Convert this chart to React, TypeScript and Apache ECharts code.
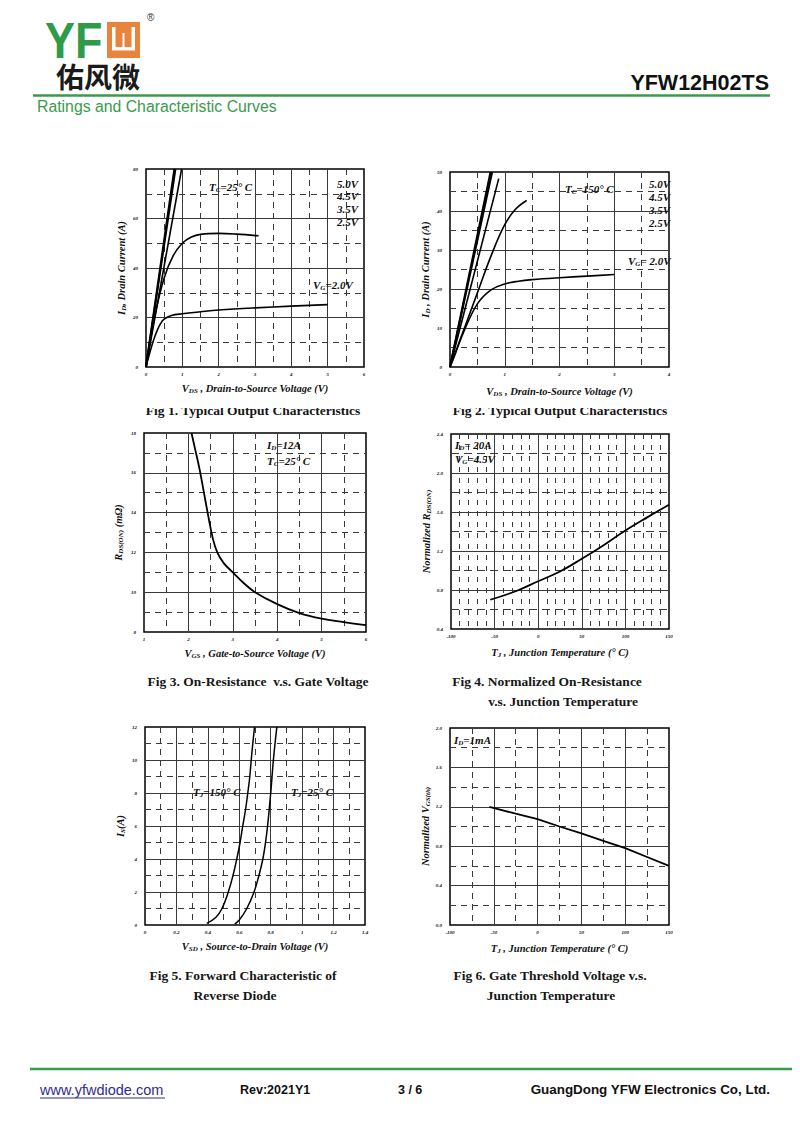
import React, { useEffect, useRef } from 'react';
import * as echarts from 'echarts';

const SERIF = '"Liberation Serif", "Times New Roman", serif';
const SANS = '"Liberation Sans", Arial, sans-serif';
const CJK = '"Noto Sans CJK SC", sans-serif';
const GREEN = '#3a9a4c';

// ---------- Fig 1: Typical Output Characteristics (Tc = 25 C) ----------
const f1Vg50X = [0, 0.78];
const f1Vg50Y = [0, 80];
const f1Vg45X = [0, 0.81];
const f1Vg45Y = [0, 80];
const f1Vg35X = [0, 0.98];
const f1Vg35Y = [0, 80];
const f1Vg25X = [0, 0.25, 0.5, 0.75, 1.0, 1.25, 1.5, 2.0, 2.5, 3.1];
const f1Vg25Y = [0, 21, 36, 45, 50, 52.5, 53.6, 54, 53.7, 53];
const f1Vg20X = [0, 0.1, 0.2, 0.3, 0.4, 0.5, 0.7, 1.0, 1.5, 2, 3, 4, 5];
const f1Vg20Y = [0, 5.5, 10.5, 14.5, 17.5, 19.3, 20.8, 21.5, 22.3, 23, 23.9, 24.6, 25.2];

// ---------- Fig 2: Typical Output Characteristics (Tc = 150 C) ----------
const f2Vg50X = [0, 0.74];
const f2Vg50Y = [0, 50];
const f2Vg45X = [0, 0.77];
const f2Vg45Y = [0, 50];
const f2Vg35X = [0, 0.89];
const f2Vg35Y = [0, 48.3];
const f2Vg25X = [0, 0.25, 0.5, 0.75, 1.0, 1.2, 1.4];
const f2Vg25Y = [0, 9.5, 19, 28.5, 36.5, 40.5, 42.7];
const f2Vg20X = [0, 0.1, 0.25, 0.5, 0.75, 1.0, 1.25, 1.5, 2, 2.5, 3];
const f2Vg20Y = [0, 3.5, 9, 16.2, 19.8, 21.3, 22, 22.4, 22.9, 23.3, 23.7];

// ---------- Fig 3: On-Resistance vs Gate Voltage ----------
const f3Vgs = [2.07, 2.15, 2.25, 2.35, 2.45, 2.55, 2.65, 2.8, 3.0, 3.25, 3.5, 4.0, 4.5, 5.0, 5.5, 6.0];
const f3Rds = [18, 17.2, 16.2, 15.0, 13.8, 12.7, 12.0, 11.45, 11.0, 10.45, 10.0, 9.4, 8.95, 8.67, 8.5, 8.35];

// ---------- Fig 4: Normalized On-Resistance vs Tj ----------
const f4Tj = [-55, -25, 0, 25, 50, 75, 100, 125, 150];
const f4Rn = [0.7, 0.79, 0.89, 0.99, 1.12, 1.26, 1.41, 1.545, 1.675];

// ---------- Fig 5: Forward Characteristic of Reverse Diode ----------
const f5T150V = [0.393, 0.45, 0.49, 0.53, 0.56, 0.584, 0.605, 0.622, 0.64, 0.654, 0.667, 0.676, 0.686, 0.697];
const f5T150I = [0.1, 0.45, 1, 2, 3, 4, 5, 6, 7, 8, 9, 10, 11, 12];
const f5T25V = [0.571, 0.6, 0.648, 0.694, 0.725, 0.75, 0.767, 0.78, 0.8, 0.817, 0.839];
const f5T25I = [0.06, 0.3, 1, 2, 3, 4, 5, 6, 8, 10, 12];

// ---------- Fig 6: Gate Threshold Voltage vs Tj ----------
const f6Tj = [-55, -25, 0, 25, 50, 75, 100, 125, 150];
const f6Vth = [1.2, 1.13, 1.075, 1.0, 0.93, 0.855, 0.78, 0.69, 0.6];

const zip = (xs: number[], ys: number[]) => xs.map((x, i) => [x, ys[i]]);

const LBL = { fontSize: 5, fontFamily: SERIF, fontStyle: 'italic', fontWeight: 'bold', color: '#111' };
const solid = { color: '#3a3a3a', width: 1 };
const dashed = (d: number[]) => ({ color: '#3a3a3a', width: 1, type: d });

function nameStyle(size: number) {
  const base = { fontFamily: SERIF, fontStyle: 'italic', fontWeight: 'bold', color: '#111' };
  return {
    ...base,
    fontSize: size,
    rich: {
      i: { ...base, fontSize: size },
      s: { ...base, fontSize: Math.round(size * 0.65), padding: [5, 0, 0, 0] },
    },
  };
}

function xAx(gi: number, min: number, max: number, interval: number, minorN: number, name: string, gap: number, d: number[]) {
  return {
    type: 'value', gridIndex: gi, min, max, interval,
    axisLine: { show: false }, axisTick: { show: false },
    axisLabel: { ...LBL, margin: 5 },
    splitLine: { show: true, showMinLine: false, showMaxLine: false, lineStyle: solid },
    minorTick: { show: false, splitNumber: minorN },
    minorSplitLine: { show: true, lineStyle: dashed(d) },
    name, nameLocation: 'middle', nameGap: gap, nameTextStyle: nameStyle(10.5),
  };
}

function yAx(gi: number, min: number, max: number, interval: number, minorN: number, name: string, gap: number, d: number[], fmt?: (v: number) => string) {
  return {
    type: 'value', gridIndex: gi, min, max, interval,
    axisLine: { show: false }, axisTick: { show: false },
    axisLabel: { ...LBL, margin: 8, formatter: fmt },
    splitLine: { show: true, showMinLine: false, showMaxLine: false, lineStyle: solid },
    minorTick: { show: false, splitNumber: minorN },
    minorSplitLine: { show: true, lineStyle: dashed(d) },
    name, nameLocation: 'middle', nameRotate: 90, nameGap: gap, nameTextStyle: nameStyle(10.5),
  };
}

function line(gi: number, data: number[][], width = 1.6, smooth: any = 0.4) {
  return {
    type: 'line', xAxisIndex: gi, yAxisIndex: gi, data, showSymbol: false, symbol: 'none',
    smooth, lineStyle: { color: '#000', width }, silent: true,
  };
}

const RICH_BASE = { fontFamily: SERIF, fontStyle: 'italic', fontWeight: 'bold', fill: '#111' };
function ann(x: number, y: number, text: string, size = 11) {
  return {
    type: 'text', x, y, z: 10,
    style: {
      text, ...RICH_BASE, fontSize: size, textAlign: 'left', textVerticalAlign: 'middle',
      rich: {
        i: { ...RICH_BASE, fontSize: size },
        s: { ...RICH_BASE, fontSize: Math.round(size * 0.65), padding: [5, 0, 0, 0] },
      },
    },
  };
}

function txt(x: number, y: number, text: string, o: any = {}) {
  return {
    type: 'text', x, y, z: o.z ?? 10, scaleX: o.scaleX ?? 1,
    style: {
      text,
      fontFamily: o.family ?? SANS,
      fontSize: o.size ?? 12,
      fontWeight: o.weight ?? 'normal',
      fontStyle: o.style ?? 'normal',
      fill: o.fill ?? '#111',
      textAlign: o.align ?? 'left',
      textVerticalAlign: 'middle',
    },
  };
}

function cap(x: number, y: number, text: string) {
  return txt(x, y, text, { family: SERIF, size: 13.5, weight: 'bold', align: 'center', fill: '#161616' });
}

export default function App() {
  const ref = useRef<HTMLDivElement>(null);
  useEffect(() => {
    if (!ref.current) return;
    const chart = echarts.init(ref.current, undefined, { renderer: 'svg' });

    const gridBase = { show: true, borderColor: '#000', borderWidth: 1.5, backgroundColor: 'transparent', containLabel: false };
    const grids = [
      { ...gridBase, left: 146, top: 169, width: 218, height: 198 },
      { ...gridBase, left: 450, top: 172, width: 219, height: 195 },
      { ...gridBase, left: 144, top: 433, width: 222, height: 199 },
      { ...gridBase, left: 451, top: 434, width: 218, height: 195 },
      { ...gridBase, left: 145, top: 727, width: 220, height: 198 },
      { ...gridBase, left: 450, top: 728, width: 219, height: 197 },
    ];

    const d1 = [6, 5];
    const xAxis = [
      xAx(0, 0, 6, 1, 2, '{i|V}{s|DS}{i| , Drain-to-Source Voltage (V)}', 15, d1),
      xAx(1, 0, 4, 1, 2, '{i|V}{s|DS}{i| , Drain-to-Source Voltage (V)}', 18, d1),
      xAx(2, 1, 6, 1, 2, '{i|V}{s|GS}{i| , Gate-to-Source Voltage (V)}', 15, d1),
      xAx(3, -100, 150, 50, 5, '{i|T}{s|J}{i| , Junction Temperature (° C)}', 17, [5, 6]),
      xAx(4, 0, 1.4, 0.2, 2, '{i|V}{s|SD}{i| , Source-to-Drain Voltage (V)}', 15, d1),
      xAx(5, -100, 150, 50, 2, '{i|T}{s|J}{i| , Junction Temperature (° C)}', 17, d1),
    ];
    const f1 = (v: number) => v.toFixed(1);
    const yAxis = [
      yAx(0, 0, 80, 20, 2, '{i|I}{s|D}{i|, Drain Current (A)}', 19, d1),
      yAx(1, 0, 50, 10, 2, '{i|I}{s|D}{i| , Drain Current (A)}', 19, d1),
      yAx(2, 8, 18, 2, 2, '{i|R}{s|DS(ON)}{i| (mΩ)}', 20, d1),
      yAx(3, 0.4, 2.4, 0.4, 2, '{i|Normalized R}{s|DS(ON)}', 19, [8, 5], f1),
      yAx(4, 0, 12, 2, 2, '{i|I}{s|S}{i|(A)}', 19, d1),
      yAx(5, 0, 2.0, 0.4, 2, '{i|Normalized V}{s|GS(th)}', 19, d1, f1),
    ];

    const series = [
      line(0, zip(f1Vg50X, f1Vg50Y), 2),
      line(0, zip(f1Vg45X, f1Vg45Y), 2),
      line(0, zip(f1Vg35X, f1Vg35Y), 1.6),
      line(0, zip(f1Vg25X, f1Vg25Y)),
      line(0, zip(f1Vg20X, f1Vg20Y)),
      line(1, zip(f2Vg50X, f2Vg50Y), 2),
      line(1, zip(f2Vg45X, f2Vg45Y), 2),
      line(1, zip(f2Vg35X, f2Vg35Y), 1.6),
      line(1, zip(f2Vg25X, f2Vg25Y)),
      line(1, zip(f2Vg20X, f2Vg20Y)),
      line(2, zip(f3Vgs, f3Rds), 1.8),
      line(3, zip(f4Tj, f4Rn), 1.8),
      line(4, zip(f5T150V, f5T150I), 1.5),
      line(4, zip(f5T25V, f5T25I), 1.5),
      line(5, zip(f6Tj, f6Vth), 1.8, false),
    ];

    const graphic: any[] = [
      // header logo
      txt(45, 41, 'YF', { size: 50, weight: 'bold', fill: '#2f9a48', scaleX: 0.9 }),
      { type: 'rect', shape: { x: 107, y: 22, width: 33, height: 36 }, style: { fill: '#e8843c' }, z: 10 },
      { type: 'rect', shape: { x: 112, y: 27, width: 3.5, height: 23 }, style: { fill: '#fff' }, z: 11 },
      { type: 'rect', shape: { x: 131.5, y: 27, width: 3.5, height: 23 }, style: { fill: '#fff' }, z: 11 },
      { type: 'rect', shape: { x: 122.5, y: 33, width: 2, height: 15 }, style: { fill: '#fff' }, z: 11 },
      { type: 'rect', shape: { x: 112, y: 47, width: 23, height: 3.5 }, style: { fill: '#fff' }, z: 11 },
      txt(147, 17, '®', { size: 10, fill: '#333' }),
      txt(56, 76, '佑风微', { family: CJK, size: 28, weight: 'bold', fill: '#1a1a1a' }),
      txt(769, 83, 'YFW12H02TS', { size: 21.5, weight: 'bold', align: 'right', fill: '#111' }),
      { type: 'line', shape: { x1: 33, y1: 95.5, x2: 770, y2: 95.5 }, style: { stroke: GREEN, lineWidth: 2.5 }, z: 10 },
      txt(37, 106, 'Ratings and Characteristic Curves', { size: 15.8, fill: GREEN }),

      // captions
      cap(253, 410, 'Fig 1. Typical Output Characteristics'),
      cap(560, 410, 'Fig 2. Typical Output Characteristics'),
      { type: 'rect', shape: { x: 130, y: 398, width: 560, height: 10 }, style: { fill: '#fff' }, z: 20 },
      cap(258, 681, 'Fig 3. On-Resistance  v.s. Gate Voltage'),
      cap(547, 681, 'Fig 4. Normalized On-Resistance'),
      cap(563, 701, 'v.s. Junction Temperature'),
      cap(243, 975, 'Fig 5. Forward Characteristic of'),
      cap(235, 995, 'Reverse Diode'),
      cap(550, 975, 'Fig 6. Gate Threshold Voltage v.s.'),
      cap(551, 995, 'Junction Temperature'),

      // annotations
      ann(209, 187, '{i|T}{s|C}{i|=25° C}'),
      ann(337, 184, '{i|5.0V}'),
      ann(337, 196, '{i|4.5V}'),
      ann(337, 209, '{i|3.5V}'),
      ann(337, 222, '{i|2.5V}'),
      ann(313, 285, '{i|V}{s|G}{i|=2.0V}'),
      ann(565, 189, '{i|T}{s|C}{i|=150° C}'),
      ann(649, 184, '{i|5.0V}'),
      ann(649, 197, '{i|4.5V}'),
      ann(649, 210, '{i|3.5V}'),
      ann(649, 223, '{i|2.5V}'),
      ann(628, 261, '{i|V}{s|G}{i|= 2.0V}'),
      ann(267, 445, '{i|I}{s|D}{i|=12A}'),
      ann(267, 461, '{i|T}{s|C}{i|=25° C}'),
      ann(455, 445, '{i|I}{s|D}{i|= 20A}'),
      ann(455, 459, '{i|V}{s|G}{i|=4.5V}'),
      ann(193, 792, '{i|T}{s|J}{i|=150° C}'),
      ann(291, 792, '{i|T}{s|J}{i|=25° C}'),
      ann(454, 740, '{i|I}{s|D}{i|=1mA}'),

      // footer
      { type: 'line', shape: { x1: 30, y1: 1069, x2: 792, y2: 1069 }, style: { stroke: GREEN, lineWidth: 2.5 }, z: 10 },
      txt(40, 1090, 'www.yfwdiode.com', { size: 14.5, fill: '#2e2e8c' }),
      { type: 'line', shape: { x1: 40, y1: 1098, x2: 165, y2: 1098 }, style: { stroke: '#2e2e8c', lineWidth: 1 }, z: 10 },
      txt(240, 1090, 'Rev:2021Y1', { size: 12.5, weight: 'bold' }),
      txt(398, 1090, '3 / 6', { size: 12.5, weight: 'bold' }),
      txt(770, 1089, 'GuangDong YFW Electronics Co, Ltd.', { size: 13.4, weight: 'bold', align: 'right' }),
    ];

    chart.setOption({
      animation: false,
      backgroundColor: '#fff',
      grid: grids,
      xAxis,
      yAxis,
      series,
      graphic,
    });
    return () => chart.dispose();
  }, []);

  return (
    <div
      ref={ref}
      style={{ position: 'absolute', left: 0, top: 0, width: 800, height: 1130, background: '#fff' }}
    />
  );
}
